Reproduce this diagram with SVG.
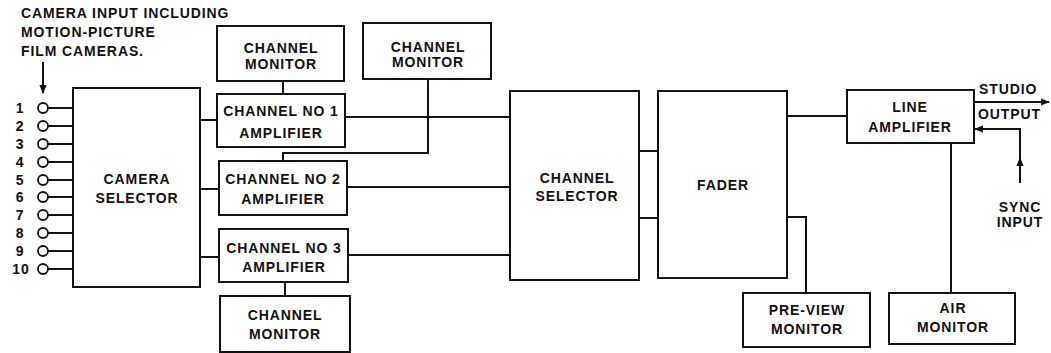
<svg xmlns="http://www.w3.org/2000/svg" width="1051" height="353" viewBox="0 0 1051 353">
<style>
.b{fill:#fff;stroke:#111;stroke-width:2}
.t{font-family:"Liberation Sans",Arial,sans-serif;font-weight:bold;font-size:14px;letter-spacing:0.9px;fill:#111;text-anchor:middle}
.l{font-family:"Liberation Sans",Arial,sans-serif;font-weight:bold;font-size:14px;letter-spacing:0.9px;fill:#111}
.w{fill:none;stroke:#111;stroke-width:2}
.c{fill:#fff;stroke:#111;stroke-width:1.8}
</style>
<defs>
<marker id="ah" viewBox="0 0 10 10" refX="9" refY="5" markerWidth="9" markerHeight="9" markerUnits="userSpaceOnUse" orient="auto">
<path d="M0,1 L10,5 L0,9 z" fill="#111"/>
</marker>
</defs>
<rect width="1051" height="353" fill="#fff"/>

<g id="camera-input-label">
<text class="l" x="21" y="18">CAMERA INPUT INCLUDING</text>
<text class="l" x="21" y="37">MOTION-PICTURE</text>
<text class="l" x="21" y="56">FILM CAMERAS.</text>
</g>

<g id="inputs">
<circle class="c" cx="43" cy="108" r="5"/><text class="t" x="20" y="113">1</text>
<circle class="c" cx="43" cy="126" r="5"/><text class="t" x="20" y="131">2</text>
<circle class="c" cx="43" cy="144" r="5"/><text class="t" x="20" y="149">3</text>
<circle class="c" cx="43" cy="162" r="5"/><text class="t" x="20" y="167">4</text>
<circle class="c" cx="43" cy="180" r="5"/><text class="t" x="20" y="185">5</text>
<circle class="c" cx="43" cy="197" r="5"/><text class="t" x="20" y="202">6</text>
<circle class="c" cx="43" cy="215" r="5"/><text class="t" x="20" y="220">7</text>
<circle class="c" cx="43" cy="233" r="5"/><text class="t" x="20" y="238">8</text>
<circle class="c" cx="43" cy="251" r="5"/><text class="t" x="20" y="256">9</text>
<circle class="c" cx="43" cy="269" r="5"/><text class="t" x="21" y="274">10</text>
</g>

<g id="camera-selector">
<rect class="b" x="73" y="88" width="127" height="199"/>
<text class="t" x="137" y="184">CAMERA</text>
<text class="t" x="137" y="203">SELECTOR</text>
</g>

<g id="monitor-1">
<rect class="b" x="217" y="26" width="127" height="55"/>
<text class="t" x="281" y="53">CHANNEL</text>
<text class="t" x="281" y="69">MONITOR</text>
</g>

<g id="amp-1">
<rect class="b" x="217" y="94" width="128" height="53"/>
<text class="t" x="281" y="116">CHANNEL NO 1</text>
<text class="t" x="281" y="138">AMPLIFIER</text>
</g>

<g id="monitor-2">
<rect class="b" x="363" y="23" width="128" height="56"/>
<text class="t" x="428" y="52">CHANNEL</text>
<text class="t" x="428" y="67">MONITOR</text>
</g>

<g id="amp-2">
<rect class="b" x="219" y="161" width="128" height="54"/>
<text class="t" x="283" y="184">CHANNEL NO 2</text>
<text class="t" x="283" y="204">AMPLIFIER</text>
</g>

<g id="amp-3">
<rect class="b" x="219" y="229" width="129" height="53"/>
<text class="t" x="284" y="253">CHANNEL NO 3</text>
<text class="t" x="284" y="272">AMPLIFIER</text>
</g>

<g id="monitor-3">
<rect class="b" x="220" y="296" width="130" height="56"/>
<text class="t" x="285" y="320">CHANNEL</text>
<text class="t" x="285" y="339">MONITOR</text>
</g>

<g id="channel-selector">
<rect class="b" x="510" y="91" width="129" height="189"/>
<text class="t" x="577" y="183">CHANNEL</text>
<text class="t" x="577" y="201">SELECTOR</text>
</g>

<g id="fader">
<rect class="b" x="658" y="91" width="129" height="187"/>
<text class="t" x="723" y="190">FADER</text>
</g>

<g id="line-amplifier">
<rect class="b" x="847" y="90" width="127" height="53"/>
<text class="t" x="910" y="112">LINE</text>
<text class="t" x="910" y="132">AMPLIFIER</text>
</g>

<g id="preview-monitor">
<rect class="b" x="743" y="293" width="127" height="54"/>
<text class="t" x="807" y="315">PRE-VIEW</text>
<text class="t" x="807" y="334">MONITOR</text>
</g>

<g id="air-monitor">
<rect class="b" x="889" y="293" width="126" height="51"/>
<text class="t" x="953" y="313">AIR</text>
<text class="t" x="953" y="332">MONITOR</text>
</g>

<g id="io-labels">
<text class="l" x="979" y="94">STUDIO</text>
<text class="l" x="978" y="119">OUTPUT</text>
<text class="t" x="1020" y="212">SYNC</text>
<text class="t" x="1020" y="227">INPUT</text>
</g>

<g id="connectors">
<path class="w" d="M43,62 V93" marker-end="url(#ah)"/>
<path class="w" d="M48,108 H73 M48,126 H73 M48,144 H73 M48,162 H73 M48,180 H73 M48,197 H73 M48,215 H73 M48,233 H73 M48,251 H73 M48,269 H73"/>
<path class="w" d="M200,120 H217"/>
<path class="w" d="M200,189 H219"/>
<path class="w" d="M200,257 H219"/>
<path class="w" d="M283,81 V94"/>
<path class="w" d="M285,282 V296"/>
<path class="w" d="M345,117 H510"/>
<path class="w" d="M428,79 V153 H283 V161"/>
<path class="w" d="M347,187 H510"/>
<path class="w" d="M348,255 H510"/>
<path class="w" d="M639,151 H658"/>
<path class="w" d="M639,218 H658"/>
<path class="w" d="M787,116 H847"/>
<path class="w" d="M787,217 H806 V293"/>
<path class="w" d="M951,143 V293"/>
<path class="w" d="M974,102 H1049" marker-end="url(#ah)"/>
<path class="w" d="M1020,183 V129 H975" marker-end="url(#ah)"/>
<path class="w" d="M1020,175 V158" marker-end="url(#ah)"/>
</g>
</svg>
